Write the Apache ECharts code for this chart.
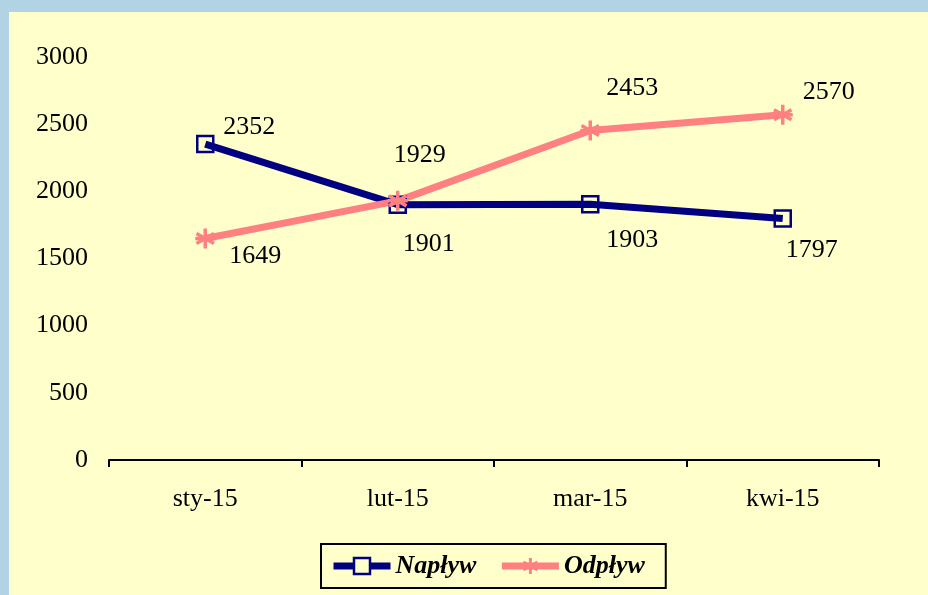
<!DOCTYPE html>
<html>
<head>
<meta charset="utf-8">
<script src="https://cdn.jsdelivr.net/npm/echarts@6/dist/echarts.min.js"></script>
<style>
  html, body { margin: 0; padding: 0; background: #b1d3e3; }
  #chart { position: absolute; left: 9px; top: 12px; width: 919px; height: 583px; }
</style>
</head>
<body>
<div id="chart"></div>
<script>
const categories = ["sty-15", "lut-15", "mar-15", "kwi-15"];
const naplyw = [2352, 1901, 1903, 1797];
const odplyw = [1649, 1929, 2453, 2570];

// label placement relative to each point
const naplywLabelOffsets = [[44, -17], [31, 40], [42, 36], [29, 32]];
const odplywLabelOffsets = [[50, 18], [22, -46], [42, -42], [46, -23]];

const font = "'Liberation Serif', 'Times New Roman', serif";
const asterisk = "path://M8,0 L8,16 M1,4 L15,12 M1,12 L15,4 M0,8 L16,8";

const chart = echarts.init(document.getElementById("chart"));

const withLabels = (values, offsets) =>
  values.map((v, i) => ({
    value: v,
    label: { offset: offsets[i] },
  }));

const option = {
  backgroundColor: "#ffffcc",
  animation: false,
  textStyle: { fontFamily: font },
  grid: {
    left: 100,
    right: 49,
    top: 45,
    bottom: 135,
  },
  xAxis: {
    type: "category",
    data: categories,
    boundaryGap: true,
    axisLine: { lineStyle: { color: "#000", width: 2 } },
    axisTick: { show: true, length: 7, lineStyle: { color: "#000", width: 2 } },
    axisLabel: { color: "#000", fontSize: 26, fontFamily: font, margin: 26 },
  },
  yAxis: {
    type: "value",
    min: 0,
    max: 3000,
    interval: 500,
    axisLine: { show: false },
    axisTick: { show: false },
    splitLine: { show: false },
    axisLabel: {
      color: "#000",
      fontSize: 26,
      fontFamily: font,
      margin: 21,
      formatter: (v) => String(v),
    },
  },
  legend: {
    left: 312,
    top: 532,
    orient: "horizontal",
    borderColor: "#000",
    borderWidth: 2,
    borderRadius: 0,
    padding: [9, 21, 9, 9],
    itemWidth: 57,
    itemHeight: 20,
    itemGap: 22,
    lineStyle: { width: 7 },
    textStyle: {
      color: "#000",
      fontSize: 26,
      fontStyle: "italic",
      fontWeight: "bold",
      fontFamily: font,
    },
    data: [
      {
        name: "Napływ",
        itemStyle: { color: "#ffffcc", borderColor: "#000080", borderWidth: 2.5 },
      },
      {
        name: "Odpływ",
        itemStyle: { color: "#ff8080", borderColor: "#ff8080", borderWidth: 3 },
      },
    ],
  },
  series: [
    {
      name: "Napływ",
      type: "line",
      data: withLabels(naplyw, naplywLabelOffsets),
      symbol: "rect",
      symbolSize: 16,
      lineStyle: { color: "#000080", width: 7 },
      itemStyle: { color: "rgba(255,255,204,0)", borderColor: "#000080", borderWidth: 2.5 },
      label: {
        show: true,
        position: "inside",
        color: "#000",
        fontSize: 26,
        fontFamily: font,
      },
    },
    {
      name: "Odpływ",
      type: "line",
      data: withLabels(odplyw, odplywLabelOffsets),
      symbol: asterisk,
      symbolSize: 20,
      lineStyle: { color: "#ff8080", width: 7 },
      itemStyle: { color: "#ff8080", borderColor: "#ff8080", borderWidth: 3.5 },
      label: {
        show: true,
        position: "inside",
        color: "#000",
        fontSize: 26,
        fontFamily: font,
      },
    },
  ],
};

chart.setOption(option);
</script>
</body>
</html>
